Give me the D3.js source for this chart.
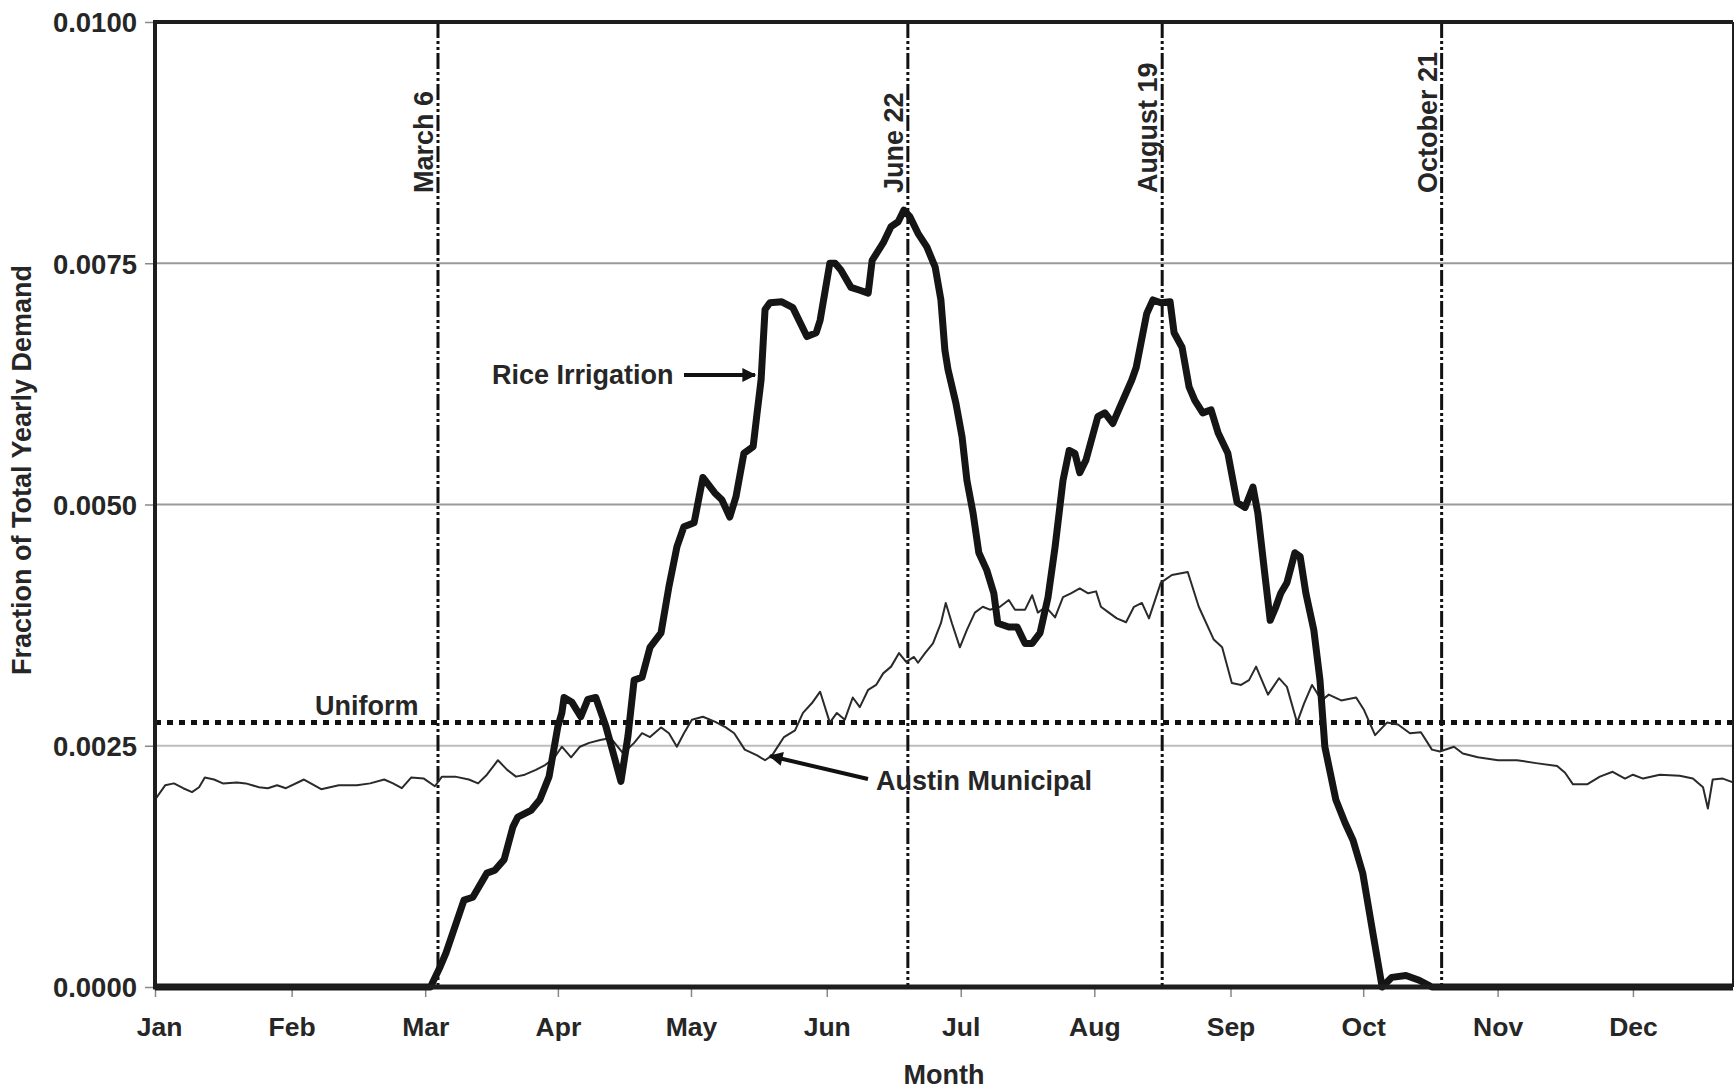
<!DOCTYPE html>
<html><head><meta charset="utf-8">
<script src="https://cdn.jsdelivr.net/npm/d3@7"></script>
<style>
body{margin:0;background:#fff;}
text{font-family:"Liberation Sans",Arial,sans-serif;font-weight:bold;fill:#262626;}
</style>
</head><body><svg id="c" width="1734" height="1091"></svg>
<script>
// ---------- data ----------
const monthLabels = ["Jan","Feb","Mar","Apr","May","Jun","Jul","Aug","Sep","Oct","Nov","Dec"];
const monthTickDays = [0,31,61.3,91.4,121.6,152.4,182.8,213.1,244,274.1,304.6,335.3];
const yTickValues = [0,0.0025,0.005,0.0075,0.01];
const uniformValue = 0.00274;
const markerLabels = ["March 6","June 22","August 19","October 21"];
const markerDays = [64.2,170.8,228.5,291.9];

const riceDays = [0,62.5,64.7,66,70.1,72.1,75.3,77.1,79.2,81.2,82.3,85.3,87.3,89.4,91.4,92.3,92.8,94.6,96.6,98.2,100,102.3,104.1,105.7,107.3,108.7,110.5,112.3,114.8,116.6,118.4,120,122.3,124.3,127,128.6,130.4,131.8,133.6,135.7,136.6,137.5,138.4,139.5,142.2,144.7,147.9,150,150.9,153.1,154.3,155.6,157.9,159.9,161.8,162.7,165.2,167,168.6,169.9,171.3,173.1,175.1,177,178.3,179.2,179.9,181.7,183.1,184.2,185.6,186.9,188.7,190.3,191.2,193.7,195.6,197.4,199,200.8,202.6,204.2,206,207.4,208.7,209.8,211.2,213.9,215.5,217.3,218.9,221.6,222.6,225,226.4,228.2,230.3,231.2,233,234.6,235.9,237.7,239.6,241.2,243.4,245.5,247.3,249.1,250.2,251.6,253,254.3,255.4,256.8,258.6,259.8,261.1,262.9,264.3,265.4,267.9,270,271.8,274,276.3,278.4,280.6,283.8,286.8,289.7,358];
const riceValues = [0,0,0.00021,0.00035,0.0009,0.00093,0.00118,0.00121,0.00132,0.00166,0.00176,0.00183,0.00194,0.00218,0.0027,0.00284,0.0030,0.00295,0.0028,0.00298,0.0030,0.0027,0.0024,0.00213,0.0026,0.00318,0.00321,0.00352,0.00367,0.00415,0.00456,0.00477,0.00481,0.00528,0.00512,0.00505,0.00487,0.00508,0.00553,0.0056,0.00595,0.00629,0.00702,0.00709,0.0071,0.00704,0.00674,0.00678,0.00691,0.0075,0.0075,0.00743,0.00725,0.00722,0.00719,0.00753,0.00771,0.00788,0.00793,0.00805,0.00798,0.00781,0.00767,0.00746,0.00712,0.0066,0.0064,0.00605,0.0057,0.00525,0.00491,0.0045,0.00432,0.00408,0.00377,0.00373,0.00373,0.00356,0.00356,0.00367,0.00404,0.00456,0.00525,0.00556,0.00553,0.00533,0.00546,0.00591,0.00595,0.00584,0.00601,0.00629,0.00642,0.00698,0.00712,0.00709,0.0071,0.00678,0.00663,0.00622,0.00608,0.00595,0.00598,0.00574,0.00553,0.00502,0.00497,0.00518,0.00491,0.00435,0.0038,0.00394,0.00408,0.00419,0.0045,0.00446,0.00408,0.0037,0.00318,0.00249,0.00194,0.0017,0.00152,0.00118,0.00056,0,0.0001,0.00012,0.00007,0,0];

const austinDays = [0,2.3,4.3,6.4,8.4,10,11.3,13.4,15.4,18.6,20.6,23.6,25.6,27.7,29.7,33.8,37.7,41.7,45.8,48.8,52,54,56,58.1,61,63.5,65.1,68.1,71.2,73.3,75.3,77.8,79.9,81.9,83.9,86.4,88.5,90.5,92.3,94.4,96.4,98.5,101,103.4,106.2,108.7,110.5,112.3,114.8,116.6,118.4,120,121.8,124.3,127,129.5,131.4,133.8,136.6,138.4,140,142.7,145.2,147,149,150.9,153.1,154.7,156.5,158.3,159.9,161.8,163.6,165.2,167,168.8,170.4,172.2,173.1,174.7,176.5,178.3,179.4,180.8,182.6,184.2,186,187.8,189.4,191.7,193.7,195.1,197.4,199,200.3,202.1,204.2,206,207.8,209.8,211.7,213.5,214.6,216.4,218.2,220.3,222.1,223.9,225.5,228.2,230.7,234.3,236.8,240.2,242.1,244.3,246.4,248.2,249.8,252.5,255,256.8,259.1,260.7,262.5,264.7,266.3,269.1,272.5,274.3,276.8,279.5,282,284.7,287.2,289.7,291.5,294.7,296.7,300.1,304.7,309,313.3,318.1,319.9,321.7,324.9,327.8,330.7,333.5,335.3,337.6,341.4,345.9,348.9,351.2,352.3,353.4,355.7,358];
const austinValues = [0.00194,0.00209,0.00211,0.00206,0.00202,0.00207,0.00217,0.00215,0.00211,0.00212,0.00211,0.00207,0.00206,0.00209,0.00206,0.00215,0.00205,0.00209,0.00209,0.00211,0.00215,0.00211,0.00206,0.00217,0.00216,0.00208,0.00218,0.00218,0.00215,0.00211,0.0022,0.00235,0.00225,0.00218,0.0022,0.00225,0.0023,0.00237,0.00249,0.00238,0.00249,0.00253,0.00256,0.00258,0.00242,0.00253,0.00263,0.00259,0.00269,0.00263,0.00249,0.00263,0.00277,0.0028,0.00275,0.00269,0.00263,0.00246,0.0024,0.00235,0.0024,0.00259,0.00266,0.00284,0.00294,0.00306,0.00274,0.00284,0.00277,0.003,0.0029,0.00308,0.00313,0.00325,0.00332,0.00346,0.00337,0.00342,0.00336,0.00346,0.00356,0.00377,0.00398,0.00377,0.00352,0.0037,0.00388,0.00394,0.00391,0.00394,0.00401,0.00391,0.00391,0.00406,0.00388,0.00394,0.00383,0.00404,0.00408,0.00413,0.00408,0.0041,0.00394,0.00388,0.00382,0.00378,0.00394,0.00398,0.00382,0.00419,0.00427,0.0043,0.00394,0.0036,0.00352,0.00315,0.00313,0.00318,0.00332,0.00303,0.0032,0.00311,0.00274,0.00294,0.00313,0.00297,0.00303,0.00297,0.003,0.00287,0.00261,0.00274,0.00272,0.00263,0.00264,0.00246,0.00244,0.00249,0.00242,0.00238,0.00235,0.00235,0.00232,0.00229,0.00222,0.0021,0.0021,0.00218,0.00223,0.00216,0.0022,0.00216,0.0022,0.00219,0.00216,0.00207,0.00185,0.00215,0.00216,0.00212];

// ---------- layout ----------
const svg = d3.select("#c");
const L = 155, R = 1733, T = 22, B = 987;
const x = d3.scaleLinear().domain([0,358]).range([L,R]);
const y = d3.scaleLinear().domain([0,0.01]).range([B,T]);

// gridlines
svg.append("g").selectAll("line").data(yTickValues.filter(v=>v>0 && v<0.01)).join("line")
  .attr("x1",L).attr("x2",R).attr("y1",d=>y(d)).attr("y2",d=>y(d))
  .attr("stroke",(d)=> d===0.0025 ? "#bdbdbd" : "#9a9a9a").attr("stroke-width",2);

// axes
const yAxis = svg.append("g").attr("transform",`translate(${L},0)`)
  .call(d3.axisLeft(y).tickValues(yTickValues).tickFormat(d3.format(".4f")).tickSize(10).tickPadding(8));
yAxis.select(".domain").remove();
yAxis.selectAll(".tick line").attr("stroke","#888").attr("stroke-width",1.5);
yAxis.selectAll(".tick text").attr("font-size",27.5).attr("dy","0.36em").attr("fill","#262626");

const xAxis = svg.append("g").attr("transform",`translate(0,${B})`)
  .call(d3.axisBottom(x).tickValues(monthTickDays).tickFormat((d,i)=>monthLabels[i]).tickSize(10).tickPadding(20));
xAxis.select(".domain").remove();
xAxis.selectAll(".tick line").attr("stroke","#888").attr("stroke-width",1.5);
xAxis.selectAll(".tick text").attr("font-size",26.5).attr("fill","#262626");
xAxis.selectAll(".tick text").filter((d,i)=>i===0).attr("dx",4);

// axis titles
svg.append("text").attr("x",944).attr("y",1084).attr("text-anchor","middle").attr("font-size",27).text("Month");
svg.append("text").attr("transform","translate(31,470) rotate(-90)").attr("text-anchor","middle").attr("font-size",27).text("Fraction of Total Yearly Demand");

// uniform line
svg.append("line").attr("x1",L).attr("x2",R).attr("y1",y(uniformValue)).attr("y2",y(uniformValue))
  .attr("stroke","#111").attr("stroke-width",5).attr("stroke-dasharray","6,6");
svg.append("text").attr("x",315).attr("y",y(uniformValue)-8).attr("font-size",27).attr("fill","#3a3a3a").text("Uniform");

// marker lines
const mk = svg.append("g");
markerDays.forEach((d,i)=>{
  mk.append("line").attr("x1",x(d)).attr("x2",x(d)).attr("y1",T).attr("y2",B)
    .attr("stroke","#111").attr("stroke-width",3).attr("stroke-dasharray","16,3,3,3,3,3");
  mk.append("text").attr("transform",`translate(${x(d)-5},193) rotate(-90)`)
    .attr("font-size",27).attr("text-anchor","start").text(markerLabels[i]);
});

// series
const line = d3.line().x(d=>x(d[0])).y(d=>y(d[1]));
svg.append("path").datum(austinDays.map((d,i)=>[d,austinValues[i]]))
  .attr("d",line).attr("fill","none").attr("stroke","#2a2a2a").attr("stroke-width",2).attr("stroke-linejoin","round");
svg.append("path").datum(riceDays.map((d,i)=>[d,riceValues[i]]))
  .attr("d",line).attr("fill","none").attr("stroke","#151515").attr("stroke-width",7).attr("stroke-linejoin","round");

// frame
const fr = svg.append("g").attr("stroke","#1e1e1e");
fr.append("line").attr("x1",L-2).attr("x2",R).attr("y1",T).attr("y2",T).attr("stroke-width",4);
fr.append("line").attr("x1",L).attr("x2",L).attr("y1",T).attr("y2",B).attr("stroke-width",4);
fr.append("line").attr("x1",R).attr("x2",R).attr("y1",T).attr("y2",B).attr("stroke-width",2);
fr.append("line").attr("x1",L-2).attr("x2",R).attr("y1",B).attr("y2",B).attr("stroke-width",5);

// annotations with arrows
svg.append("defs").append("marker").attr("id","ah").attr("viewBox","0 0 10 10").attr("refX",9).attr("refY",5)
  .attr("markerWidth",4).attr("markerHeight",3.5).attr("orient","auto").attr("markerUnits","strokeWidth")
  .append("path").attr("d","M0,0L10,5L0,10Z").attr("fill","#111");
svg.append("text").attr("x",492).attr("y",384).attr("font-size",27).text("Rice Irrigation");
svg.append("line").attr("x1",684).attr("y1",375).attr("x2",755).attr("y2",375)
  .attr("stroke","#111").attr("stroke-width",4).attr("marker-end","url(#ah)");
svg.append("text").attr("x",876).attr("y",790).attr("font-size",27).text("Austin Municipal");
svg.append("line").attr("x1",868).attr("y1",779).attr("x2",770).attr("y2",756)
  .attr("stroke","#111").attr("stroke-width",4).attr("marker-end","url(#ah)");
</script>
</body></html>
